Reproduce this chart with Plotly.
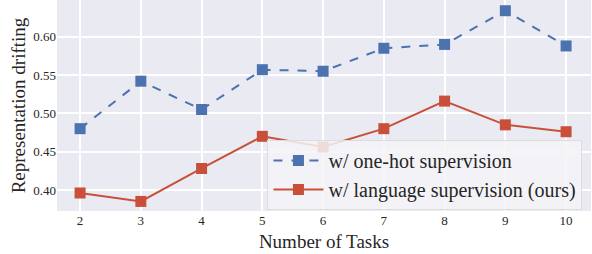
import plotly.graph_objects as go

tasks = [2, 3, 4, 5, 6, 7, 8, 9, 10]
onehot = [0.480, 0.542, 0.505, 0.557, 0.555, 0.585, 0.590, 0.634, 0.588]
language = [0.396, 0.385, 0.428, 0.470, 0.456, 0.480, 0.516, 0.485, 0.476]
yticks = [0.40, 0.45, 0.50, 0.55, 0.60]

FONT = "Liberation Serif, Times New Roman, serif"
fig = go.Figure()
fig.add_trace(go.Scatter(x=tasks, y=onehot, mode="lines+markers",
                         name="w/ one-hot supervision",
                         line=dict(color="#4C72B0", width=2, dash="dash"),
                         marker=dict(symbol="square", size=11, color="#4C72B0")))
fig.add_trace(go.Scatter(x=tasks, y=language, mode="lines+markers",
                         name="w/ language supervision (ours)",
                         line=dict(color="#C8503A", width=2),
                         marker=dict(symbol="square", size=11, color="#C8503A")))
fig.update_layout(
    width=592, height=254,
    margin=dict(l=57, r=1, t=0, b=43),
    plot_bgcolor="#EAEAF2", paper_bgcolor="white",
    font=dict(family=FONT, color="#262626"),
    xaxis=dict(range=[1.62, 10.41], tickvals=tasks, showgrid=True, gridcolor="white",
               gridwidth=1.5, zeroline=False, ticks="", automargin=False,
               tickfont=dict(size=13, family=FONT),
               title=dict(text="Number of Tasks", font=dict(size=19, family=FONT), standoff=7)),
    yaxis=dict(range=[0.3725, 0.648], tickvals=yticks, tickformat=".2f", showgrid=True,
               gridcolor="white", gridwidth=1.5, zeroline=False, ticks="", automargin=False,
               tickfont=dict(size=13, family=FONT),
               title=dict(text="Representation drifting", font=dict(size=19, family=FONT), standoff=2)),
    legend=dict(x=0.984, y=0.005, xanchor="right", yanchor="bottom",
                bgcolor="rgba(245,245,248,0.85)", bordercolor="#DDDDDD", borderwidth=1,
                font=dict(size=20, family=FONT), tracegroupgap=0, itemwidth=50),
    showlegend=True,
)
fig.write_html("out.html", config={"displayModeBar": False},
               post_script="document.body.style.margin='0';document.body.style.overflow='hidden';")
